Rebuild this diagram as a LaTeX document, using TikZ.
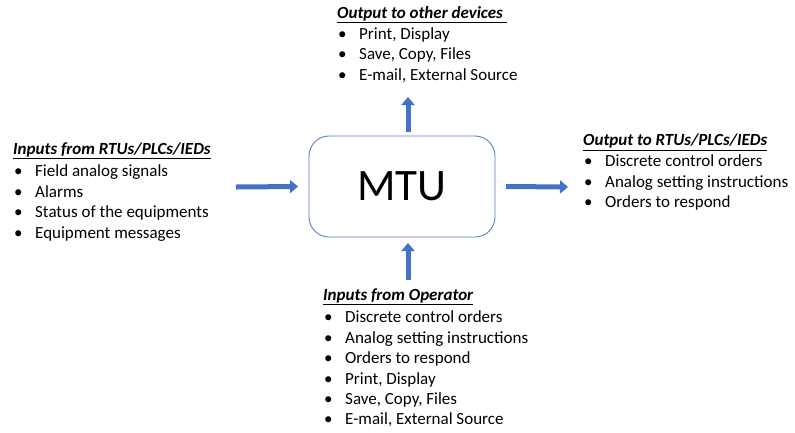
\documentclass[tikz,border=0pt]{standalone}
\usepackage{fontspec}
\setmainfont{Carlito}
\usetikzlibrary{arrows.meta}
\definecolor{arrowblue}{RGB}{68,114,196}
\definecolor{boxblue}{RGB}{90,125,195}
\newcommand{\blt}[1]{\makebox[22pt][l]{\hspace{1pt}\textbullet}#1}
\newcommand{\ttl}[1]{\underline{\textbf{\textit{#1}}}}
\tikzset{
  flow/.style={draw=arrowblue, line width=5pt, -{Triangle[width=13pt,length=8pt]}},
  listtext/.style={anchor=north west, inner sep=0pt, align=left, font=\fontsize{17}{20.4}\selectfont},
  mtubox/.style={draw=boxblue, line width=0.9pt, rounded corners=20pt, minimum width=186pt, minimum height=101pt, font=\fontsize{45}{52}\selectfont}
}
\begin{document}
\begin{tikzpicture}[x=1pt,y=-1pt]
\useasboundingbox (0,0) rectangle (795,432);
\node[mtubox] (mtu) at (402,186.5) {MTU};
\node[listtext] (inrtu) at (13,142.5) {\ttl{Inputs from RTUs/PLCs/IEDs}\\[2pt]
\blt{Field analog signals}\\
\blt{Alarms}\\
\blt{Status of the equipments}\\
\blt{Equipment messages}};
\node[listtext] (outdev) at (337,6) {\ttl{Output to other devices }\\[1pt]
\blt{Print, Display}\\
\blt{Save, Copy, Files}\\
\blt{E-mail, External Source}};
\node[listtext] (outrtu) at (583,134) {\ttl{Output to RTUs/PLCs/IEDs}\\[0.5pt]
\blt{Discrete control orders}\\
\blt{Analog setting instructions}\\
\blt{Orders to respond}};
\node[listtext] (inop) at (323,288.5) {\ttl{Inputs from Operator}\\[2pt]
\blt{Discrete control orders}\\
\blt{Analog setting instructions}\\
\blt{Orders to respond}\\
\blt{Print, Display}\\
\blt{Save, Copy, Files}\\
\blt{E-mail, External Source}};
\coordinate (a1s) at (236,187);
\coordinate (a2e) at (568,187);
\coordinate (a3e) at (408,97);
\coordinate (a4s) at (408,280);
\draw[flow] (a1s) -- (mtu.west -| 298,0);
\draw[flow] (mtu.east -| 506,0) -- (a2e);
\draw[flow] (408,132) -- (a3e);
\draw[flow] (a4s) -- (408,243);
\end{tikzpicture}
\end{document}
